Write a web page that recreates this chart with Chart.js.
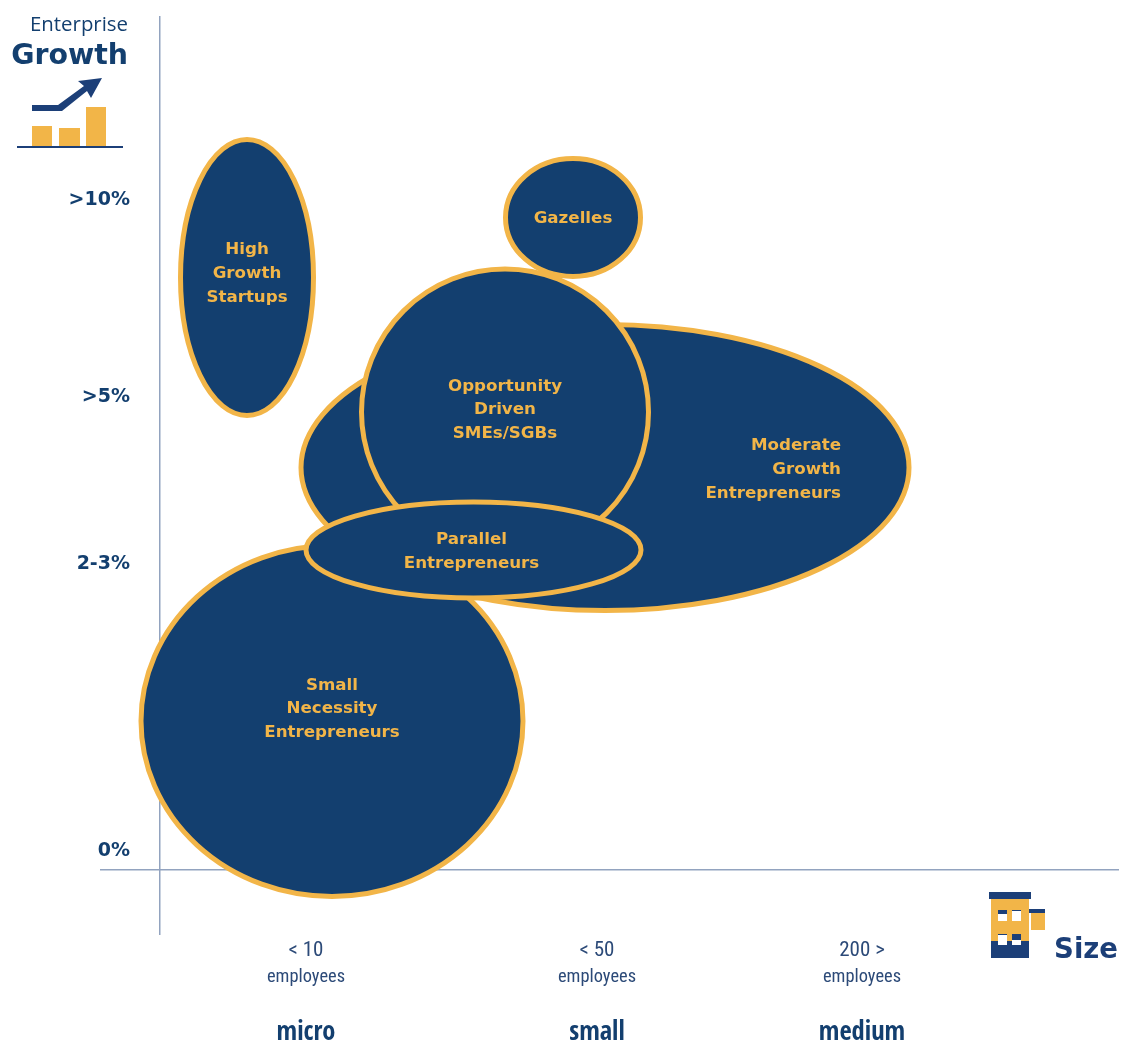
<!DOCTYPE html>
<html>
<head>
<meta charset="utf-8">
<title>Enterprise growth by size</title>
<script src="https://cdn.jsdelivr.net/npm/chart.js@4/dist/chart.umd.min.js"></script>
<style>
    html, body { margin: 0; padding: 0; background: #fff; }
    canvas { display: block; }
</style>
</head>
<body>
<canvas id="segmentChart" width="1121" height="1040"></canvas>
<script>
// Enterprise segments, listed back to front
const segments = ['Moderate Growth', 'Small Necessity', 'Gazelles', 'Opportunity Driven', 'High Growth', 'Parallel'];
const segmentLabels = [
    ['Moderate', 'Growth', 'Entrepreneurs'],
    ['Small', 'Necessity', 'Entrepreneurs'],
    ['Gazelles'],
    ['Opportunity', 'Driven', 'SMEs/SGBs'],
    ['High', 'Growth', 'Startups'],
    ['Parallel', 'Entrepreneurs']
];
const sizeCenter = [44.5, 17.2, 41.3, 34.5, 8.7, 31.35];
const growthCenter = [40.25, 14.9, 65.25, 45.8, 59.25, 32.0];
const sizeSpread = [30.4, 19.1, 6.75, 14.35, 6.65, 16.75];
const growthSpread = [14.3, 17.55, 5.9, 14.3, 13.8, 4.8];

// Axis ticks
const sizeTicks = [14.6, 43.7, 70.2];
const sizeBandLabels = ['< 10', '< 50', '200 >'];
const sizeUnitLabels = ['employees', 'employees', 'employees'];
const sizeClassLabels = ['micro', 'small', 'medium'];
const growthTicks = [1.9, 30.6, 47.3, 67.0];
const growthTickLabels = ['0%', '2-3%', '>5%', '>10%'];

const navy = '#133f6f';
const amber = '#f2b548';
const axisGrey = '#92a3bf';
const tickBlue = '#2c4a78';
const iconBlue = '#1c3f78';
const textFont = '"Open Sans", sans-serif';
const boldFont = '"DejaVu Sans", sans-serif';
const narrowFont = '"Roboto Condensed", sans-serif';
const narrowBoldFont = '"Open Sans Condensed", sans-serif';

// Where the segment names sit relative to the centre of their ellipse
const labelOffsets = {
    'Moderate Growth': { dx: 236, dy: 2, align: 'right' },
    'Small Necessity': { dx: 0, dy: -12, align: 'center' },
    'Gazelles': { dx: 0, dy: 1, align: 'center' },
    'Opportunity Driven': { dx: 0, dy: -2, align: 'center' },
    'High Growth': { dx: 0, dy: -4, align: 'center' },
    'Parallel': { dx: -2, dy: 2, align: 'center' }
};

// Ellipses are drawn from each dataset's point, with radii taken from the axis scales
const ellipsePlugin = {
    id: 'segmentEllipses',
    afterDatasetsDraw(chart) {
        const ctx = chart.ctx;
        const xScale = chart.scales.x;
        const yScale = chart.scales.y;
        chart.data.datasets.forEach((dataset, i) => {
            const point = chart.getDatasetMeta(i).data[0];
            const item = dataset.data[0];
            const rx = xScale.getPixelForValue(item.x + item.rx) - point.x;
            const ry = point.y - yScale.getPixelForValue(item.y + item.ry);
            ctx.save();
            ctx.beginPath();
            ctx.ellipse(point.x, point.y, rx, ry, 0, 0, Math.PI * 2);
            ctx.fillStyle = navy;
            ctx.fill();
            ctx.lineWidth = 5;
            ctx.strokeStyle = amber;
            ctx.stroke();

            const place = labelOffsets[dataset.label];
            const lines = segmentLabels[i];
            ctx.fillStyle = amber;
            ctx.font = 'bold 16.7px ' + boldFont;
            ctx.textAlign = place.align;
            ctx.textBaseline = 'middle';
            lines.forEach((line, n) => {
                const lineY = point.y + place.dy + (n - (lines.length - 1) / 2) * 23.7;
                ctx.fillText(line, point.x + place.dx, lineY);
            });
            ctx.restore();
        });
    }
};

// Axis headings and their two small icons
const headingPlugin = {
    id: 'axisHeadings',
    afterDraw(chart) {
        const ctx = chart.ctx;
        ctx.save();

        ctx.fillStyle = navy;
        ctx.textAlign = 'right';
        ctx.textBaseline = 'alphabetic';
        ctx.font = '20.4px ' + textFont;
        ctx.fillText('Enterprise', 128, 31);
        ctx.font = 'bold 28.4px ' + boldFont;
        ctx.fillText('Growth', 128, 64);
        ctx.fillStyle = iconBlue;
        ctx.font = 'bold 27.5px ' + boldFont;
        ctx.fillText('Size', 1118, 958);

        // rising bars
        ctx.fillStyle = amber;
        ctx.fillRect(32, 126, 20, 20);
        ctx.fillRect(59, 128, 21, 18);
        ctx.fillRect(86, 107, 20, 39);
        ctx.fillStyle = iconBlue;
        ctx.fillRect(17, 146, 106, 2);
        ctx.beginPath();
        ctx.moveTo(32, 105);
        ctx.lineTo(58, 105);
        ctx.lineTo(84, 86);
        ctx.lineTo(78, 81);
        ctx.lineTo(102, 78);
        ctx.lineTo(91, 98);
        ctx.lineTo(87, 91);
        ctx.lineTo(62, 111);
        ctx.lineTo(32, 111);
        ctx.closePath();
        ctx.fill();

        // building with a hanging sign
        ctx.fillStyle = amber;
        ctx.fillRect(991, 899, 38, 42);
        ctx.fillRect(1031, 913, 14, 17);
        ctx.fillStyle = iconBlue;
        ctx.fillRect(989, 892, 42, 7);
        ctx.fillRect(991, 941, 38, 17);
        ctx.fillRect(1029, 909, 16, 4);
        ctx.fillStyle = '#fff';
        ctx.fillRect(998, 910, 9, 11);
        ctx.fillRect(1012, 910, 9, 11);
        ctx.fillRect(998, 934, 9, 11);
        ctx.fillRect(1012, 934, 9, 11);
        ctx.fillStyle = iconBlue;
        ctx.fillRect(998, 910, 9, 4);
        ctx.fillRect(1012, 910, 9, 1);
        ctx.fillRect(998, 934, 9, 1);
        ctx.fillRect(1012, 934, 9, 6);

        ctx.restore();
    }
};

const sizeRange = { min: -5.9, max: 95.8 };
const growthRange = { min: -6.4, max: 85.3 };

function setTicks(values) {
    return axis => {
        axis.ticks = values.map(value => ({ value: value }));
    };
}

// One row of labels under the size axis
function sizeRow(labels, padding, color, font, borderOptions) {
    return {
        type: 'linear',
        axis: 'x',
        position: { y: 0 },
        min: sizeRange.min,
        max: sizeRange.max,
        afterBuildTicks: setTicks(sizeTicks),
        grid: { display: false, drawTicks: false },
        border: borderOptions,
        ticks: {
            autoSkip: false,
            maxRotation: 0,
            padding: padding,
            color: color,
            font: font,
            callback: (value, index) => labels[index]
        }
    };
}

new Chart(document.getElementById('segmentChart').getContext('2d'), {
    type: 'bubble',
    plugins: [ellipsePlugin, headingPlugin],
    data: {
        datasets: segments.map((name, i) => ({
            label: name,
            data: [{ x: sizeCenter[i], y: growthCenter[i], r: 0, rx: sizeSpread[i], ry: growthSpread[i] }],
            backgroundColor: 'transparent',
            borderColor: 'transparent'
        }))
    },
    options: {
        responsive: false,
        animation: false,
        events: [],
        layout: { autoPadding: false, padding: { left: 101, right: 3, top: 17, bottom: 106 } },
        plugins: {
            legend: { display: false },
            tooltip: { enabled: false }
        },
        scales: {
            x: sizeRow(sizeBandLabels, 68, tickBlue, { family: narrowFont, size: 21 }, { color: axisGrey, width: 1.5 }),
            sizeUnit: sizeRow(sizeUnitLabels, 96, tickBlue, { family: narrowFont, size: 18.4 }, { display: false }),
            sizeClass: sizeRow(sizeClassLabels, 147, navy, { family: narrowBoldFont, size: 26.5, weight: 'bold' }, { display: false }),
            y: {
                type: 'linear',
                position: { x: 0 },
                min: growthRange.min,
                max: growthRange.max,
                grid: { display: false, drawTicks: false },
                border: { color: axisGrey, width: 1.5 },
                ticks: { display: false }
            },
            growthLabels: {
                type: 'linear',
                axis: 'y',
                position: { x: -3 },
                min: growthRange.min,
                max: growthRange.max,
                afterBuildTicks: setTicks(growthTicks),
                grid: { display: false, drawTicks: false },
                border: { display: false },
                ticks: {
                    autoSkip: false,
                    color: navy,
                    font: { family: boldFont, size: 19, weight: 'bold' },
                    callback: (value, index) => growthTickLabels[index]
                }
            }
        }
    }
});
</script>
</body>
</html>
